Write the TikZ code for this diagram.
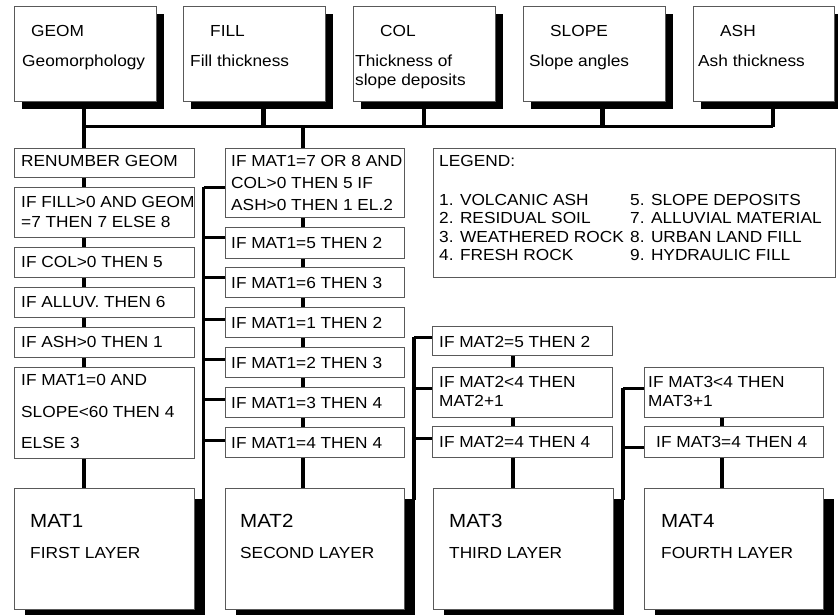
\documentclass[tikz,border=0pt]{standalone}
\usepackage{fontspec}
\setmainfont{Liberation Sans}[FakeStretch=1.08]
\usetikzlibrary{calc}
\pgfdeclarelayer{back}
\pgfdeclarelayer{bg}
\pgfsetlayers{back,bg,main}
\newcommand\mytext[4]{\node[txt] (#1) at (#2,#3) {#4};}
\newcommand\mybox[5]{\node[box,minimum width=#4pt,minimum height=#5pt] (#1) at (#2,#3) {};}
\begin{document}
\begin{tikzpicture}[x=1pt,y=-1pt,
  box/.style={draw=black!65, line width=0.9pt, fill=white, anchor=north west, inner sep=0pt, outer sep=0pt},
  txt/.style={anchor=base west, inner sep=0pt, font=\fontsize{16}{19}\selectfont},
  ttl/.style={anchor=base west, inner sep=0pt, font=\fontsize{19}{23}\selectfont},
  stub/.style={line width=4.5pt},
  vline/.style={line width=4pt},
  bline/.style={line width=3.5pt},
  hline/.style={line width=3pt},
  shadowfill/.style={fill=black}]
\useasboundingbox (0,0) rectangle (838,615);
\begin{pgfonlayer}{back}
\fill[white] (0,0) rectangle (838,615);
\end{pgfonlayer}

% ---------- top boxes ----------
\mybox{geom}{14}{6}{142}{95}
\mybox{fill}{183}{6}{142}{95}
\mybox{col}{353}{6}{142}{95}
\mybox{slope}{523}{6}{142}{95}
\mybox{ash}{693}{6}{141}{95}
\mytext{geomT}{31}{37}{GEOM}
\mytext{geomD}{22}{67}{Geomorphology}
\mytext{fillT}{210}{37}{FILL}
\mytext{fillD}{190}{67}{Fill thickness}
\mytext{colT}{380}{37}{COL}
\mytext{colD}{355}{67}{Thickness of}
\mytext{colE}{355}{86}{slope deposits}
\mytext{slopeT}{550}{37}{SLOPE}
\mytext{slopeD}{529}{67}{Slope angles}
\mytext{ashT}{720}{37}{ASH}
\mytext{ashD}{698}{67}{Ash thickness}

% ---------- left column ----------
\mybox{renum}{14}{148}{180}{29}
\mybox{ifill}{14}{187}{180}{50}
\mybox{icol}{14}{247}{180}{30}
\mybox{ialluv}{14}{287}{180}{30}
\mybox{iash}{14}{327}{180}{30}
\mybox{imat}{14}{367}{180}{91}
\mybox{mat1}{14}{488}{180}{121}
\mytext{renumT}{21}{166}{RENUMBER GEOM}
\mytext{ifillT}{21}{207}{IF FILL>0 AND GEOM}
\mytext{ifillU}{21}{227}{=7 THEN 7 ELSE 8}
\mytext{icolT}{21}{267}{IF COL>0 THEN 5}
\mytext{ialluvT}{21}{307}{IF ALLUV. THEN 6}
\mytext{iashT}{21}{347}{IF ASH>0 THEN 1}
\mytext{imatT}{21}{385}{IF MAT1=0 AND}
\mytext{imatU}{21}{417}{SLOPE<60 THEN 4}
\mytext{imatV}{21}{448}{ELSE 3}

% ---------- middle column ----------
\mybox{m1}{225}{148}{179}{69}
\mybox{m2}{225}{227}{179}{31}
\mybox{m3}{225}{267}{179}{30}
\mybox{m4}{225}{307}{179}{30}
\mybox{m5}{225}{347}{179}{30}
\mybox{m6}{225}{387}{179}{30}
\mybox{m7}{225}{427}{179}{30}
\mybox{mat2}{225}{488}{179}{121}
\mytext{m1T}{231}{166}{IF MAT1=7 OR 8 AND}
\mytext{m1U}{231}{188}{COL>0 THEN 5 IF}
\mytext{m1V}{231}{210}{ASH>0 THEN 1 EL.2}
\mytext{m2T}{231}{248}{IF MAT1=5 THEN 2}
\mytext{m3T}{231}{288}{IF MAT1=6 THEN 3}
\mytext{m4T}{231}{328}{IF MAT1=1 THEN 2}
\mytext{m5T}{231}{368}{IF MAT1=2 THEN 3}
\mytext{m6T}{231}{408}{IF MAT1=3 THEN 4}
\mytext{m7T}{231}{448}{IF MAT1=4 THEN 4}

% ---------- legend ----------
\mybox{lg}{433}{148}{402}{129}
\mytext{lgT}{439}{167}{LEGEND:}
\mytext{lg1}{439}{205}{1. VOLCANIC ASH}
\mytext{lg2}{439}{223}{2. RESIDUAL SOIL}
\mytext{lg3}{439}{242}{3. WEATHERED ROCK}
\mytext{lg4}{439}{260}{4. FRESH ROCK}
\mytext{lg5}{630}{205}{5. SLOPE DEPOSITS}
\mytext{lg7}{630}{223}{7. ALLUVIAL MATERIAL}
\mytext{lg8}{630}{242}{8. URBAN LAND FILL}
\mytext{lg9}{630}{260}{9. HYDRAULIC FILL}

% ---------- third column ----------
\mybox{ca}{432}{326}{180}{29}
\mybox{cb}{432}{367}{180}{50}
\mybox{cc}{432}{426}{180}{31}
\mybox{mat3}{433}{488}{180}{121}
\mytext{caT}{439}{347}{IF MAT2=5 THEN 2}
\mytext{cbT}{439}{387}{IF MAT2<4 THEN}
\mytext{cbU}{439}{406}{MAT2+1}
\mytext{ccT}{439}{447}{IF MAT2=4 THEN 4}

% ---------- fourth column ----------
\mybox{dd}{644}{367}{179}{50}
\mybox{de}{644}{426}{179}{31}
\mybox{mat4}{644}{488}{179}{121}
\mytext{ddT}{648}{387}{IF MAT3<4 THEN}
\mytext{ddU}{648}{406}{MAT3+1}
\mytext{deT}{656}{447}{IF MAT3=4 THEN 4}

% ---------- layer boxes text ----------
\node[ttl] (mat1T) at (30,527) {MAT1};
\mytext{mat1D}{30}{558}{FIRST LAYER}
\node[ttl] (mat2T) at (240,527) {MAT2};
\mytext{mat2D}{240}{558}{SECOND LAYER}
\node[ttl] (mat3T) at (449,527) {MAT3};
\mytext{mat3D}{449}{558}{THIRD LAYER}
\node[ttl] (mat4T) at (661,527) {MAT4};
\mytext{mat4D}{661}{558}{FOURTH LAYER}

% ---------- shadows and connectors ----------
\begin{pgfonlayer}{bg}
\foreach \b in {geom,fill,col,slope,ash}
  \fill[shadowfill] ([shift={(8,8)}]\b.north west) rectangle ([shift={(8,8)}]\b.south east);
\foreach \b in {mat1,mat2,mat3,mat4}
  \fill[shadowfill] ([shift={(10.5,10.5)}]\b.north west) rectangle ([shift={(10.5,10.5)}]\b.south east);

% bus
\coordinate (busL) at (84,127);
\coordinate (busM) at (303,127);
\coordinate (busR) at (773,127);
\draw[hline] (busL) -- (busR);
\draw[stub] (geom.south -| busL) -- (busL);
\draw[stub] ([xshift=9.5pt]fill.south) -- ([xshift=9.5pt]fill.south |- busL);
\draw[stub] (col.south) -- (col.south |- busL);
\draw[stub] ([xshift=8.5pt]slope.south) -- ([xshift=8.5pt]slope.south |- busL);
\draw[stub] ([xshift=9.5pt]ash.south) -- (busR);

% left column spine
\draw[vline] (busL) -- (renum.north -| busL);
\foreach \a/\b in {renum/ifill,ifill/icol,icol/ialluv,ialluv/iash,iash/imat,imat/mat1}
  \draw[vline] (\a.south -| busL) -- (\b.north -| busL);

% middle column spine
\draw[vline] (busM) -- (m1.north -| busM);
\foreach \a/\b in {m1/m2,m2/m3,m3/m4,m4/m5,m5/m6,m6/m7,m7/mat2}
  \draw[vline] (\a.south -| busM) -- (\b.north -| busM);

% branch MAT1 -> middle column
\coordinate (br1) at (203.5,187);
\draw[bline] (br1) -- ([shift={(9.5,12)}]mat1.north east);
\foreach \n/\y in {m1/187,m2/237,m3/277,m4/319,m5/359,m6/399,m7/440}
  \draw[hline] (203.5,\y) -- (\n.west |- 0,\y);

% third column
\coordinate (br2) at (414,337);
\draw[bline] (br2) -- ([shift={(10,12)}]mat2.north east);
\foreach \n/\y in {ca/337,cb/388,cc/438}
  \draw[hline] (414,\y) -- (\n.west |- 0,\y);
\coordinate (sp3) at (513,0);
\foreach \a/\b in {ca/cb,cb/cc,cc/mat3}
  \draw[vline] (\a.south -| sp3) -- (\b.north -| sp3);

% fourth column
\coordinate (br3) at (623,388);
\draw[bline] (br3) -- ([shift={(10,12)}]mat3.north east);
\foreach \n/\y in {dd/388,de/447}
  \draw[hline] (623,\y) -- (\n.west |- 0,\y);
\coordinate (sp4) at (722,0);
\foreach \a/\b in {dd/de,de/mat4}
  \draw[vline] (\a.south -| sp4) -- (\b.north -| sp4);
\end{pgfonlayer}
\end{tikzpicture}
\end{document}
